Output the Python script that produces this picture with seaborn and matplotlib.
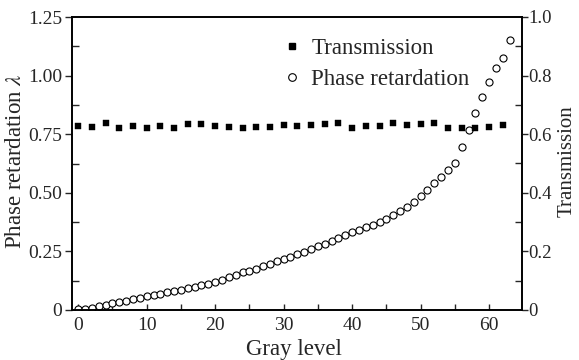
import matplotlib
matplotlib.use("Agg")
import matplotlib.pyplot as plt
from matplotlib.ticker import MultipleLocator, FuncFormatter
from matplotlib.lines import Line2D
import pandas as pd
import seaborn as sns

# gray levels for the phase curve (every level) and transmission (every other level)
gray_phase = list(range(64))
phase = [0.003, 0.006, 0.010, 0.015, 0.020, 0.028, 0.034, 0.040, 0.046, 0.052,
         0.058, 0.064, 0.070, 0.076, 0.082, 0.087, 0.093, 0.099, 0.105, 0.112,
         0.121, 0.130, 0.140, 0.151, 0.160, 0.168, 0.177, 0.187, 0.197, 0.207,
         0.217, 0.228, 0.238, 0.249, 0.260, 0.271, 0.283, 0.296, 0.308, 0.321,
         0.331, 0.341, 0.352, 0.363, 0.375, 0.390, 0.405, 0.422, 0.440, 0.462,
         0.487, 0.512, 0.540, 0.569, 0.596, 0.628, 0.697, 0.768, 0.839, 0.910,
         0.974, 1.031, 1.074, 1.152]

gray_trans = list(range(0, 64, 2))
trans = [0.628, 0.624, 0.638, 0.620, 0.629, 0.621, 0.629, 0.621, 0.635, 0.635,
         0.628, 0.626, 0.620, 0.624, 0.626, 0.630, 0.629, 0.631, 0.635, 0.637,
         0.620, 0.628, 0.629, 0.637, 0.631, 0.634, 0.637, 0.620, 0.620, 0.622,
         0.626, 0.631]

df_phase = pd.DataFrame({"gray": gray_phase, "phase": phase})
df_trans = pd.DataFrame({"gray": gray_trans, "trans": trans})

sns.set_style("ticks")
plt.rcParams['font.family'] = ['Liberation Serif', 'DejaVu Serif']
plt.rcParams['mathtext.fontset'] = 'stix'

W, H = 579, 360
fig = plt.figure(figsize=(W / 100, H / 100), dpi=100)
ax = fig.add_axes([72 / W, 1 - 310 / H, 450 / W, 293 / H])
ax2 = ax.twinx()

sns.scatterplot(data=df_phase, x="gray", y="phase", ax=ax, marker="o",
                s=26, facecolor="white", edgecolor="black", linewidth=0.8)
sns.scatterplot(data=df_trans, x="gray", y="trans", ax=ax2, marker="s",
                s=24, color="black", edgecolor="black", linewidth=0.3)

ax.set_xlim(-0.9, 64.8)
ax.set_ylim(0, 1.25)
ax2.set_ylim(0, 1.0)

ax.xaxis.set_major_locator(MultipleLocator(10))
ax.xaxis.set_minor_locator(MultipleLocator(5))
ax.yaxis.set_major_locator(MultipleLocator(0.25))
ax.yaxis.set_minor_locator(MultipleLocator(0.125))
ax2.yaxis.set_major_locator(MultipleLocator(0.2))
ax2.yaxis.set_minor_locator(MultipleLocator(0.1))

ax.yaxis.set_major_formatter(FuncFormatter(lambda v, p: "0" if v == 0 else f"{v:.2f}"))
ax2.yaxis.set_major_formatter(FuncFormatter(lambda v, p: "0" if v == 0 else f"{v:.1f}"))

ax.tick_params(axis="x", which="both", direction="in", length=4, width=1,
               labelsize=14, pad=5)
ax.tick_params(axis="y", which="major", direction="out", length=5, width=1,
               labelsize=14, pad=2)
ax.tick_params(axis="y", which="minor", direction="in", length=5, width=1)
ax2.tick_params(axis="y", which="major", direction="out", length=4, width=1,
                labelsize=13.5, pad=0.5)
ax2.tick_params(axis="y", which="minor", direction="in", length=5, width=1)

for a in (ax, ax2):
    for sp in a.spines.values():
        sp.set_visible(True)
        sp.set_linewidth(1.2)
        sp.set_color("black")

ax.set_xlabel("")
ax.set_ylabel("")
ax2.set_ylabel("")
fig.text(294 / W, 1 - 350 / H, "Gray level", fontsize=16.5, ha="center", va="center")
fig.text(16 / W, 1 - 161 / H, "Phase retardation $\\lambda$", fontsize=16.5,
         rotation=90, ha="center", va="center")
fig.text(567.5 / W, 1 - 161 / H, "Transmission", fontsize=15,
         rotation=90, ha="center", va="center")

handles = [
    Line2D([], [], marker="s", linestyle="none", color="black", markersize=5),
    Line2D([], [], marker="o", linestyle="none", markerfacecolor="white",
           markeredgecolor="black", markersize=5.5, markeredgewidth=0.8),
]
fig.legend(handles, ["Transmission", "Phase retardation"], loc="upper left",
           bbox_to_anchor=(283 / W, 1 - 38 / H), frameon=False, fontsize=16.5,
           handletextpad=0.44, labelspacing=0.42, handlelength=0.8,
           borderpad=0, borderaxespad=0)

fig.savefig("out.png", dpi=100)
